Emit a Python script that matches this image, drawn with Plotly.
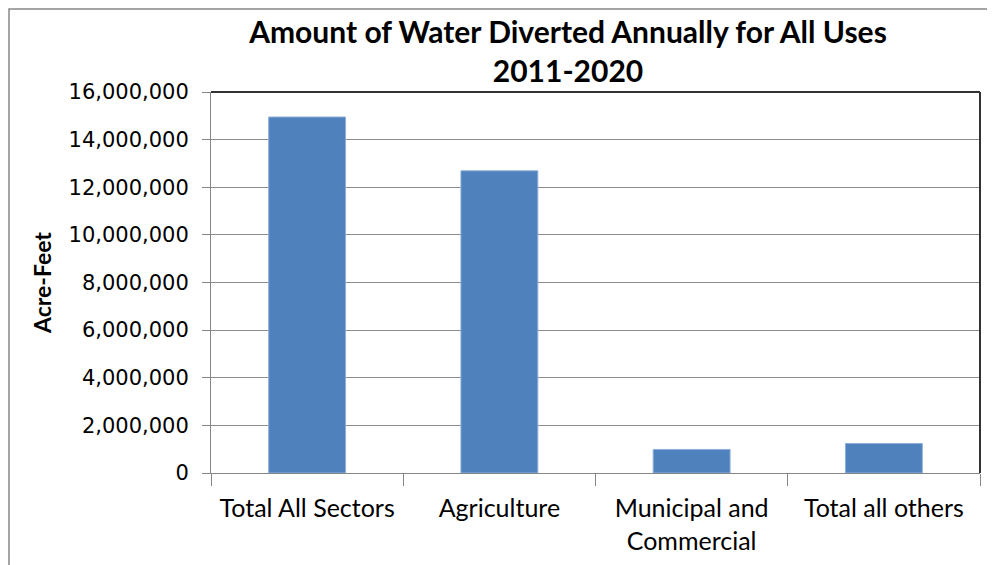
import plotly.graph_objects as go

categories = ["Total All Sectors", "Agriculture", "Municipal and<br>Commercial", "Total all others"]
values = [14950000, 12690000, 990000, 1240000]
y_ticks = [0, 2000000, 4000000, 6000000, 8000000, 10000000, 12000000, 14000000, 16000000]
y_ticklabels = ["0", "2,000,000", "4,000,000", "6,000,000", "8,000,000", "10,000,000",
                "12,000,000", "14,000,000", "16,000,000"]

W, H = 987, 557
L, R, T, B = 203, 15, 84, 92
PW, PH = W - L - R, H - T - B

fig = go.Figure(go.Bar(
    x=categories, y=values,
    marker=dict(color="#4F81BD", line=dict(color="#8fb0d9", width=1)),
))

fig.update_layout(
    width=W, height=H,
    margin=dict(l=L, r=R, t=T, b=B, autoexpand=False),
    paper_bgcolor="white", plot_bgcolor="white",
    bargap=0.6,
    showlegend=False,
    title=dict(
        text="<b>Amount of Water Diverted Annually for All Uses<br>2011-2020</b>",
        x=560 / W, xanchor="center", xref="container",
        y=1 - 35 / H, yanchor="middle",
        font=dict(family="Lato", size=30, color="black"),
    ),
    font=dict(family="Lato", color="black"),
)

fig.update_xaxes(
    type="category", automargin=False,
    showline=True, linecolor="#868686", linewidth=1,
    ticks="outside", tickson="boundaries", ticklen=12, tickcolor="#868686",
    ticklabelstandoff=13,
    tickfont=dict(family="Lato", size=25, color="black"),
    showgrid=False,
)
fig.update_yaxes(
    range=[0, 16000000], automargin=False,
    tickvals=y_ticks, ticktext=y_ticklabels,
    showline=True, linecolor="#868686", linewidth=1,
    ticks="outside", ticklen=8, tickcolor="#868686",
    ticklabelstandoff=9,
    tickfont=dict(family="DejaVu Sans", size=21, color="black"),
    showgrid=True, gridcolor="#8c8c8c", gridwidth=1,
    zeroline=False,
    title=dict(text="<b>Acre-Feet</b>", font=dict(family="Lato", size=23, color="black"), standoff=10),
)

# top and right plot border (dark) and outer chart border (gray)
fig.add_shape(type="line", xref="paper", yref="paper", x0=0, x1=1, y0=1, y1=1,
              line=dict(color="#333333", width=2))
fig.add_shape(type="line", xref="paper", yref="paper", x0=1, x1=1, y0=0, y1=1,
              line=dict(color="#333333", width=2))
fig.add_shape(type="rect", xref="paper", yref="paper",
              x0=(1 - L) / PW, x1=(W + 20 - L) / PW, y0=-(B + 20) / PH, y1=(PH + T - 1) / PH,
              line=dict(color="#888888", width=1.5), fillcolor="rgba(0,0,0,0)")

fig.write_html("out.html")
